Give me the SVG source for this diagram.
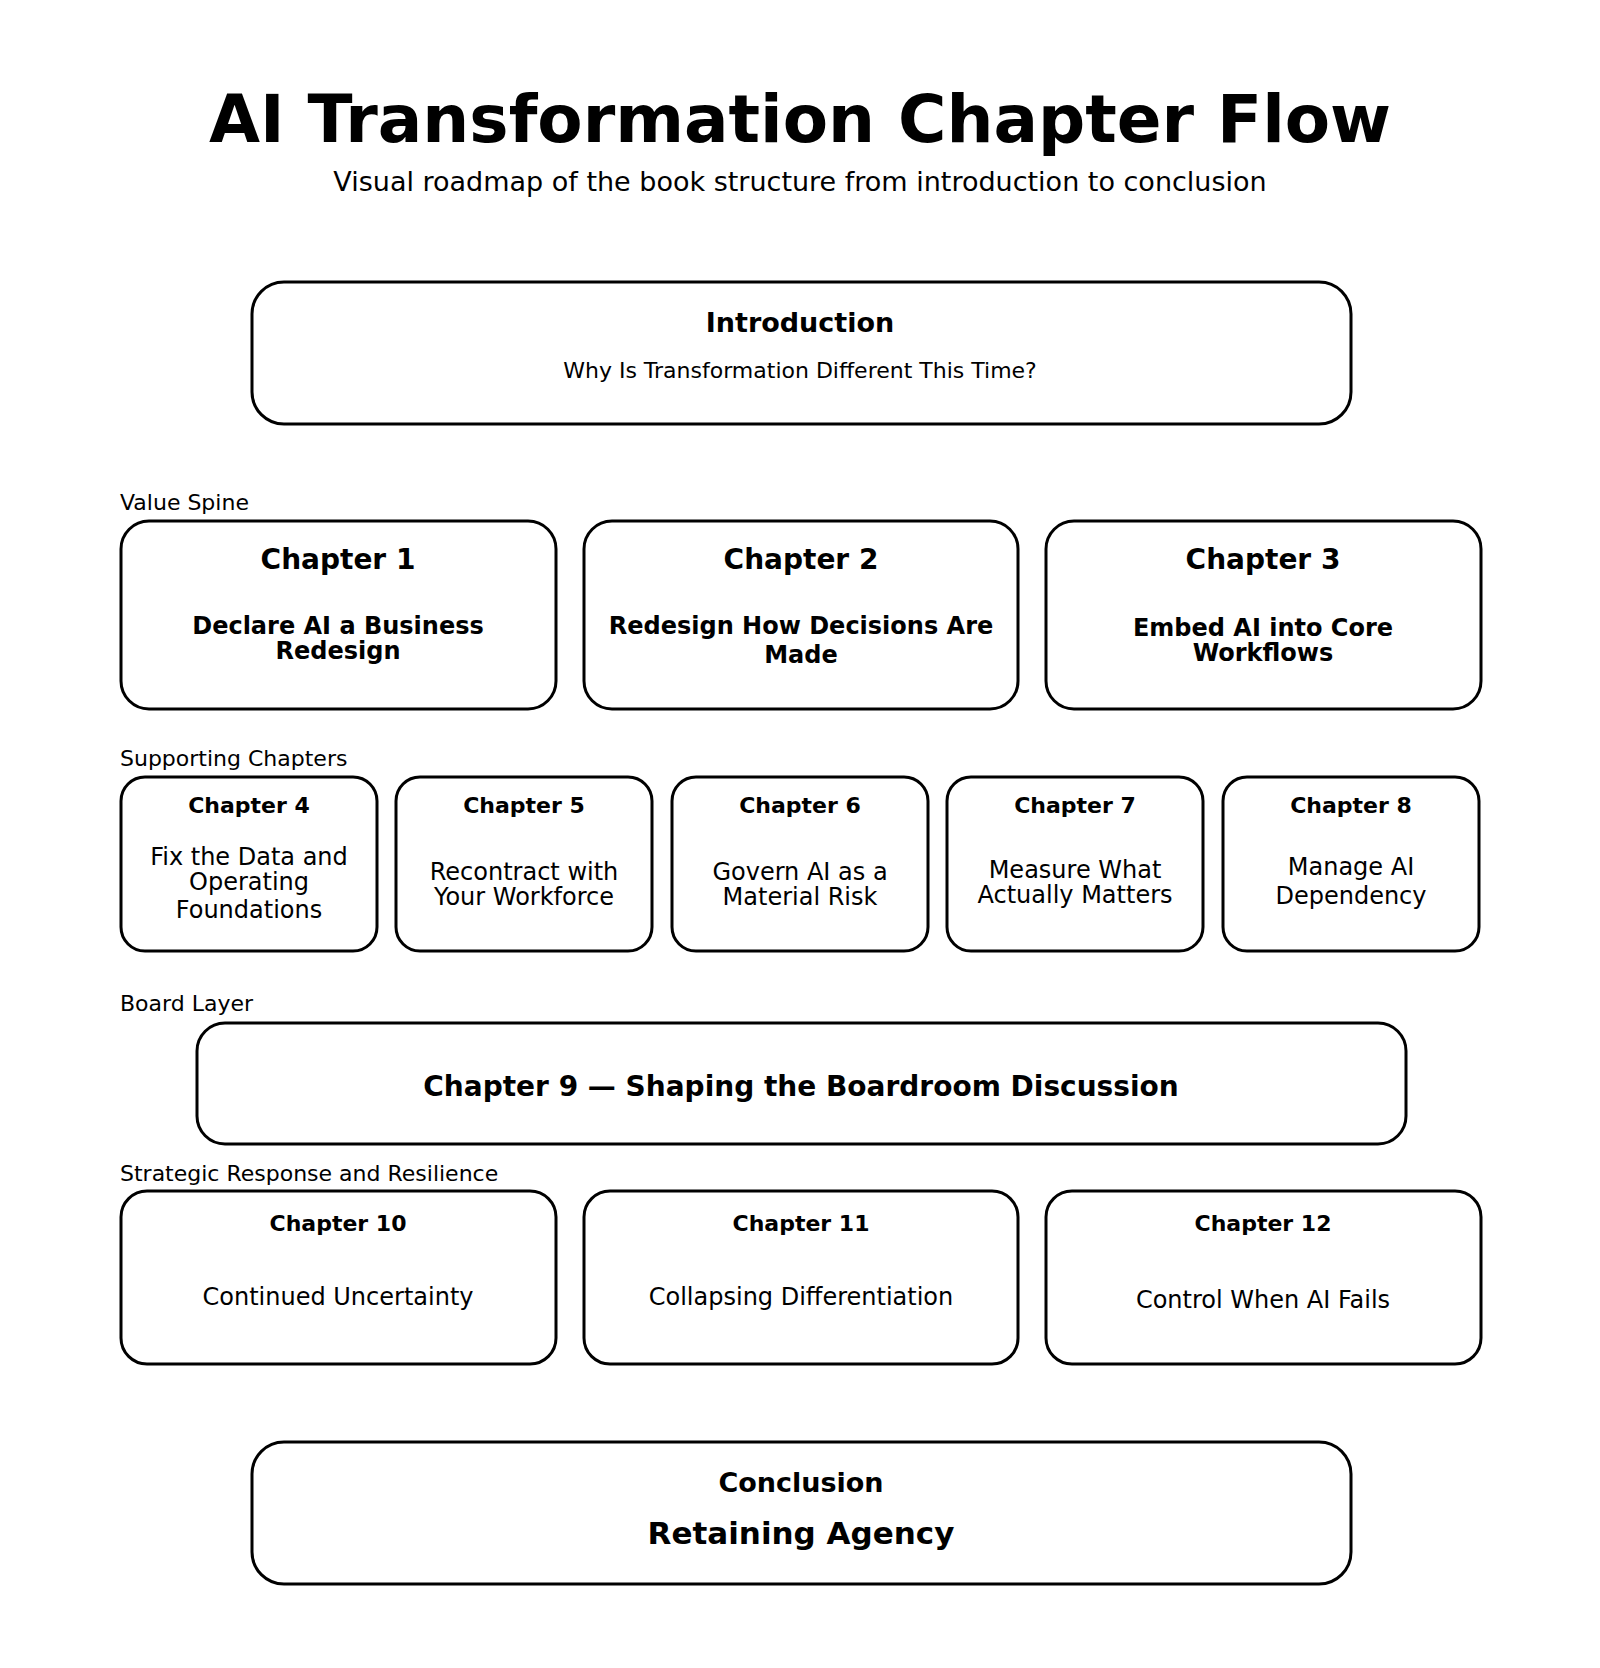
<svg xmlns="http://www.w3.org/2000/svg" width="1600" height="1668" viewBox="0 0 1600 1668">
<style>
text{font-family:"DejaVu Sans",sans-serif;text-anchor:middle;fill:#000}
.b{font-weight:bold}
.lbl{text-anchor:start;font-size:22px}
rect{fill:#fff;stroke:#000;stroke-width:3}
</style>
<rect x="0" y="0" width="1600" height="1668" style="stroke:none"/>
<text x="800" y="142" class="b" font-size="66">AI Transformation Chapter Flow</text>
<text x="800" y="191" font-size="27">Visual roadmap of the book structure from introduction to conclusion</text>
<g id="intro"><rect x="252" y="282" width="1099" height="142" rx="32"/>
<text x="800" y="332" class="b" font-size="27">Introduction</text>
<text x="800" y="378" font-size="22">Why Is Transformation Different This Time?</text></g>
<text x="120" y="510" class="lbl">Value Spine</text>
<g id="ch1"><rect x="121" y="521" width="435" height="188" rx="28"/>
<text x="338" y="569" class="b" font-size="28">Chapter 1</text>
<text x="338" y="634" class="b" font-size="24">Declare AI a Business</text>
<text x="338" y="659" class="b" font-size="24">Redesign</text></g>
<g id="ch2"><rect x="584" y="521" width="434" height="188" rx="28"/>
<text x="801" y="569" class="b" font-size="28">Chapter 2</text>
<text x="801" y="634" class="b" font-size="24">Redesign How Decisions Are</text>
<text x="801" y="663" class="b" font-size="24">Made</text></g>
<g id="ch3"><rect x="1046" y="521" width="435" height="188" rx="28"/>
<text x="1263" y="569" class="b" font-size="28">Chapter 3</text>
<text x="1263" y="636" class="b" font-size="24">Embed AI into Core</text>
<text x="1263" y="661" class="b" font-size="24">Workflows</text></g>
<text x="120" y="766" class="lbl">Supporting Chapters</text>
<g id="ch4"><rect x="121" y="777" width="256" height="174" rx="24"/>
<text x="249" y="813" class="b" font-size="22">Chapter 4</text>
<text x="249" y="865" font-size="24">Fix the Data and</text>
<text x="249" y="890" font-size="24">Operating</text>
<text x="249" y="918" font-size="24">Foundations</text></g>
<g id="ch5"><rect x="396" y="777" width="256" height="174" rx="24"/>
<text x="524" y="813" class="b" font-size="22">Chapter 5</text>
<text x="524" y="880" font-size="24">Recontract with</text>
<text x="524" y="905" font-size="24">Your Workforce</text></g>
<g id="ch6"><rect x="672" y="777" width="256" height="174" rx="24"/>
<text x="800" y="813" class="b" font-size="22">Chapter 6</text>
<text x="800" y="880" font-size="24">Govern AI as a</text>
<text x="800" y="905" font-size="24">Material Risk</text></g>
<g id="ch7"><rect x="947" y="777" width="256" height="174" rx="24"/>
<text x="1075" y="813" class="b" font-size="22">Chapter 7</text>
<text x="1075" y="878" font-size="24">Measure What</text>
<text x="1075" y="903" font-size="24">Actually Matters</text></g>
<g id="ch8"><rect x="1223" y="777" width="256" height="174" rx="24"/>
<text x="1351" y="813" class="b" font-size="22">Chapter 8</text>
<text x="1351" y="875" font-size="24">Manage AI</text>
<text x="1351" y="904" font-size="24">Dependency</text></g>
<text x="120" y="1011" class="lbl">Board Layer</text>
<g id="ch9"><rect x="197" y="1023" width="1209" height="121" rx="28"/>
<text x="801" y="1096" class="b" font-size="28">Chapter 9 — Shaping the Boardroom Discussion</text></g>
<text x="120" y="1181" class="lbl">Strategic Response and Resilience</text>
<g id="ch10"><rect x="121" y="1191" width="435" height="173" rx="26"/>
<text x="338" y="1231" class="b" font-size="22">Chapter 10</text>
<text x="338" y="1305" font-size="24">Continued Uncertainty</text></g>
<g id="ch11"><rect x="584" y="1191" width="434" height="173" rx="26"/>
<text x="801" y="1231" class="b" font-size="22">Chapter 11</text>
<text x="801" y="1305" font-size="24">Collapsing Differentiation</text></g>
<g id="ch12"><rect x="1046" y="1191" width="435" height="173" rx="26"/>
<text x="1263" y="1231" class="b" font-size="22">Chapter 12</text>
<text x="1263" y="1308" font-size="24">Control When AI Fails</text></g>
<g id="conclusion"><rect x="252" y="1442" width="1099" height="142" rx="32"/>
<text x="801" y="1492" class="b" font-size="27">Conclusion</text>
<text x="801" y="1544" class="b" font-size="31">Retaining Agency</text></g>
<g id="connectors"></g>
</svg>
